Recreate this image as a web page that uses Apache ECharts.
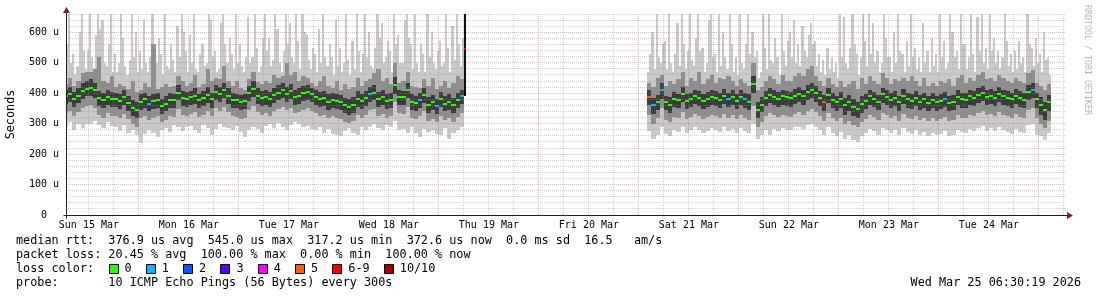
<!DOCTYPE html>
<html><head><meta charset="utf-8">
<script src="https://cdn.jsdelivr.net/npm/echarts@6/dist/echarts.min.js"></script>
<style>html,body{margin:0;padding:0;background:#fff;}#c{width:1097px;height:297px;}</style>
</head><body><div id="c"></div>
<script>
// ---- axis / label data ----
const dayLabels = ['Sun 15 Mar','Mon 16 Mar','Tue 17 Mar','Wed 18 Mar','Thu 19 Mar','Fri 20 Mar','Sat 21 Mar','Sun 22 Mar','Mon 23 Mar','Tue 24 Mar'];
const dayLabelHours = [12,36,60,84,108,132,156,180,204,228]; // hours since Sun 15 Mar 00:00 (noon of each day)
const lossLabels = ['0','1','2','3','4','5','6-9','10/10'];
const lossColors = ['#26ff00','#00b8ff','#0059ff','#5e00ff','#ff00ff','#ff5e00','#ff0000','#a00000'];

// ---- series data: hourly steps, value at hour t covers (t-1, t], microseconds ----
const seg1Start = 7;
const seg1Min = [290,305,280,298,285,300, 300,310,295,285,305,292, 288,275,295,270,280,262, 238,265,280,270,255,278, 285,272,295,288,276,290, 292,280,270,295,285,262, 283,298,290,285,278,292, 272,255,280,290,282,268, 292,300,285,302,290,280, 296,305,298,288,292,284, 278,290,270,282,265,262, 258,275,285,268,262,288, 280,290,300,286,280,295, 290,310,278,282,270,288, 268,255,282,272,280,265, 262,285,250,270,280,290];
const seg1P2 = [335,342,326,338,352,358, 360,352,328,320,334,326, 326,320,332,314,298,290, 318,326,312,320,324,304, 312,324,322,348,330,326, 332,338,322,330,340,326, 350,342,356,338,324,322, 316,320,346,358,338,330, 334,326,340,348,356,344, 352,334,338,346,350,342, 334,326,330,318,324,320, 316,306,302,308,328,320, 330,344,348,326,332,320, 324,370,334,332,356,318, 314,324,340,308,316,304, 326,312,318,306,322,336];
const seg1P4 = [364,372,356,368,382,390, 392,384,358,350,362,354, 354,348,360,342,326,318, 346,352,340,348,350,332, 340,352,350,376,358,354, 360,366,350,358,368,352, 378,370,384,366,352,350, 344,348,374,386,366,358, 362,354,368,376,384,372, 380,362,366,374,378,370, 362,354,358,346,352,348, 344,334,330,336,356,348, 358,372,376,354,360,348, 352,398,362,360,384,346, 342,352,368,336,344,332, 354,340,346,334,350,364];
const seg1Med = [390,396,382,392,408,415, 418,410,384,376,388,380, 380,374,386,368,352,346, 372,380,366,374,378,358, 366,378,376,402,384,380, 386,392,376,384,395,380, 404,396,410,392,378,376, 370,374,400,414,392,384, 388,380,394,402,410,398, 406,388,392,400,405,396, 388,380,384,372,378,374, 370,360,356,362,382,374, 384,398,402,380,386,374, 378,426,388,386,410,372, 368,378,394,362,370,358, 380,366,372,360,376,390];
const seg1P7 = [412,420,405,418,432,440, 445,434,406,400,410,404, 402,398,410,392,378,370, 396,402,390,398,400,382, 390,400,398,428,406,404, 408,418,398,408,420,402, 428,420,434,416,400,398, 394,398,424,440,416,408, 410,404,418,426,434,420, 430,410,416,424,428,418, 410,404,408,396,400,398, 394,384,380,386,406,398, 408,420,426,404,410,396, 402,452,412,408,434,396, 392,400,418,386,394,382, 404,390,396,384,400,412];
const seg1P9 = [430,450,425,440,465,470, 470,480,520,440,435,455, 420,430,425,415,440,405, 410,435,420,560,415,420, 430,420,425,455,440,425, 435,460,420,430,480,440, 450,445,490,440,425,440, 418,412,445,470,438,430, 440,432,460,450,455,500, 460,470,440,455,450,435, 425,440,455,425,418,440, 412,430,415,420,450,425, 440,445,465,480,440,450, 430,500,435,440,470,425, 420,418,445,425,450,415, 425,440,418,432,455,445];
// max per half hour (two values per hourly step)
const seg1MaxHalf = [470,560, 660,500, 530,460, 490,600, 660,540, 480,540, 660,520, 480,590, 660,610, 640,500, 490,560, 660,470, 530,470, 500,660, 580,490, 460,510, 660,520, 600,470, 540,480, 640,500, 470,520, 660,560, 500,580, 530,460, 660,490, 480,560, 510,470, 620,520, 660,600, 540,470, 590,500, 660,480, 470,530, 560,490, 500,660, 640,520, 540,470, 480,630, 660,560, 500,580, 530,480, 660,500, 560,490, 470,520, 650,500, 520,660, 550,470, 490,580, 660,540, 580,490, 510,660, 610,500, 470,540, 660,560, 630,520, 500,660, 570,480, 660,600, 590,510, 480,550, 530,470, 610,500, 660,520, 490,560, 520,460, 640,490, 550,470, 500,660, 510,460, 570,480, 660,540, 470,530, 660,520, 600,490, 480,550, 660,580, 630,500, 520,570, 540,470, 660,560, 590,500, 500,640, 660,580, 560,480, 660,500, 470,560, 530,470, 660,520, 600,500, 480,540, 570,490, 500,660, 550,470, 620,510, 660,560, 490,580];

const seg2Start = 147;
const seg2Min = [275,250,262,290, 265,258,280,272,290,268, 278,288,280,270,276,285, 280,272,288,276,282,268, 285,275,270,300,250,262, 280,262,282,275,285,280, 278,288,290,282,295,300, 290,278,262,288,270,260, 272,250,262,245,240,258, 268,282,275,262,285,278, 270,278,262,285,272,265, 278,262,272,258,268,262, 265,275,258,262,280,272, 268,282,275,285,292,276, 285,275,290,280,272,265, 282,272,268,295,298,262, 258,245,268];
const seg2P2 = [328,300,318,350, 312,304,322,318,338,315, 322,332,325,315,322,330, 325,318,332,320,328,315, 330,320,312,358,290,306, 325,335,328,322,330,326, 322,332,338,330,342,348, 338,325,310,335,318,308, 318,298,310,295,288,305, 315,330,322,312,335,328, 318,325,310,332,320,315, 325,312,320,308,318,310, 315,322,308,312,328,320, 318,330,325,335,342,328, 332,325,338,330,325,318, 332,322,318,345,350,318, 300,285,310];
const seg2P4 = [360,332,346,380, 344,336,354,350,370,348, 355,365,358,348,356,362, 358,350,366,354,360,348, 362,352,346,402,318,338, 358,368,360,355,362,358, 356,365,372,362,378,385, 372,358,342,368,350,340, 352,328,342,325,318,335, 348,362,355,345,368,360, 350,358,342,365,352,348, 358,345,352,340,350,342, 348,355,340,345,360,352, 350,362,358,368,375,360, 365,358,370,362,358,352, 365,356,350,378,385,350, 330,312,342];
const seg2Med = [388,362,372,410, 370,362,380,376,398,374, 380,390,385,375,382,388, 385,378,392,380,386,375, 388,380,372,430,345,362, 385,395,388,382,390,386, 384,392,398,390,405,412, 400,385,372,395,378,370, 382,360,372,355,348,365, 375,390,382,372,396,388, 378,385,370,392,380,375, 385,372,380,368,378,370, 375,382,368,372,388,380, 378,390,385,395,402,388, 392,385,398,390,385,380, 392,384,378,405,412,380, 362,345,372];
const seg2P7 = [410,385,395,432, 392,386,404,398,420,396, 402,412,408,398,405,410, 408,400,415,402,410,398, 410,402,396,455,372,386, 408,418,410,405,412,408, 405,415,420,412,428,435, 422,408,395,418,400,392, 405,385,395,380,372,390, 398,412,405,395,418,410, 400,408,392,415,402,398, 408,395,402,390,400,392, 398,405,390,395,410,402, 400,412,408,418,425,410, 415,408,420,412,408,402, 415,406,400,428,435,402, 388,372,395];
const seg2P9 = [432,420,450,460, 425,440,430,445,470,425, 450,440,470,430,445,460, 435,450,445,455,440,425, 445,435,425,500,410,420, 440,455,445,430,460,440, 440,455,465,455,480,490, 455,440,425,450,430,420, 440,420,430,440,415,450, 430,455,440,430,465,450, 430,445,440,450,440,455, 440,425,450,425,435,425, 440,435,445,425,450,460, 435,450,440,460,470,445, 450,440,460,450,440,435, 450,440,435,465,475,435, 425,410,430];
const seg2MaxHalf = [470,530, 600,480, 660,520, 500,560, 570,480, 660,500, 470,530, 630,490, 660,560, 480,540, 660,510, 490,580, 660,540, 550,470, 500,640, 660,520, 530,470, 660,490, 600,520, 480,660, 560,470, 520,460, 660,500, 480,560, 660,530, 600,520, 540,450, 470,660, 550,480, 660,510, 500,580, 520,460, 660,540, 490,570, 600,520, 640,500, 560,490, 620,540, 520,590, 630,560, 570,490, 530,470, 510,460, 550,480, 520,470, 500,450, 660,520, 650,500, 480,550, 660,560, 530,460, 520,660, 570,490, 660,530, 630,500, 540,470, 500,660, 580,520, 520,470, 600,500, 660,540, 530,470, 570,490, 660,520, 550,480, 520,470, 630,500, 540,470, 580,490, 530,470, 660,520, 570,480, 500,660, 600,520, 540,480, 660,560, 560,480, 520,660, 530,470, 650,540, 660,500, 550,480, 660,540, 580,500, 540,480, 520,660, 570,490, 530,470, 540,480, 570,500, 520,470, 660,560, 550,490, 580,500, 530,470, 600,510, 520,460];

// steps whose median had packet loss (index into lossColors)
const lossHours  = [27,80,92,96,102,147,148,150,166,170,189,218,239];
const lossLevels = [1, 1, 1, 1, 1,  5,  1,  1,  1,  1,  5,  1,  1];

// last step before the outage: jump line and its high median
const jumpHour = 102, jumpFrom = 390, jumpTo = 660, jumpMark = 545;

const legendLines = [
  'median rtt:  376.9 us avg  545.0 us max  317.2 us min  372.6 us now  0.0 ms sd  16.5   am/s',
  'packet loss: 20.45 % avg  100.00 % max  0.00 % min  100.00 % now',
  'loss color:',
  'probe:       10 ICMP Echo Pings (56 Bytes) every 300s'
];
const stampText = 'Wed Mar 25 06:30:19 2026';

// ---- build ----
const X_MIN = 6.5, X_MAX = 246.5, Y_MAX = 660;
const MONO = 'DejaVu Sans Mono';
const smokeData = [];
function addSeg(start, mn, p2, p4, md, p7, p9, mxHalf) {
  for (let i = 0; i < md.length; i++) {
    const t = start + i;
    const li = lossHours.indexOf(t);
    smokeData.push([t, mn[i], p2[i], p4[i], md[i], p7[i], p9[i], mxHalf[2 * i], li >= 0 ? lossLevels[li] : 0, mxHalf[2 * i + 1]]);
  }
}
addSeg(seg1Start, seg1Min, seg1P2, seg1P4, seg1Med, seg1P7, seg1P9, seg1MaxHalf);
addSeg(seg2Start, seg2Min, seg2P2, seg2P4, seg2Med, seg2P7, seg2P9, seg2MaxHalf);

const vGrid = [];
for (let h = 12; h < X_MAX; h += 6) vGrid.push([h, h % 24 === 0 ? 1 : 0]);
const hGrid = [];
for (let v = 20; v <= Y_MAX; v += 20) hGrid.push([v, v % 100 === 0 ? 1 : 0]);

const GRID_MINOR = 'rgba(143,143,143,0.42)';
const GRID_MAJOR = 'rgba(222,79,79,0.42)';

function xOf(api, t) { return Math.round(api.coord([Math.min(Math.max(t, X_MIN), X_MAX), 0])[0]); }
function renderSmoke(params, api) {
  const cs = params.coordSys;
  const t = api.value(0);
  const xa = xOf(api, t - 1), xm = xOf(api, t - 0.5), xb = xOf(api, t);
  const yOf = v => Math.round(Math.max(cs.y, api.coord([t, v])[1]));
  const rect = (x0, x1, lo, hi, fill) => {
    const y1 = yOf(hi), y0 = yOf(lo);
    return {type: 'rect', shape: {x: x0, y: y1, width: x1 - x0, height: Math.max(0, y0 - y1)}, style: {fill}};
  };
  const p9 = api.value(6);
  return {type: 'group', children: [
    rect(xa, xb, api.value(1), p9, '#c9c9c9'),
    rect(xa, xm, p9, Math.max(p9, api.value(7)), '#c9c9c9'),
    rect(xm, xb, p9, Math.max(p9, api.value(9)), '#c9c9c9'),
    rect(xa, xb, api.value(2), p9, '#8e8e8e'),
    rect(xa, xb, api.value(3), api.value(5), '#3c3c3c')
  ]};
}
function renderMedian(params, api) {
  const t = api.value(0);
  const xa = xOf(api, t - 1), xb = xOf(api, t);
  const ym = Math.round(api.coord([t, api.value(4)])[1]);
  return {type: 'rect', shape: {x: xa, y: ym - 1, width: xb - xa, height: 2}, style: {fill: lossColors[api.value(8)]}};
}
function renderVGrid(params, api) {
  const cs = params.coordSys;
  const x = Math.floor(api.coord([api.value(0), 0])[0]) + 0.5;
  return {type: 'line', shape: {x1: x, y1: cs.y, x2: x, y2: cs.y + cs.height},
    style: {stroke: api.value(1) ? GRID_MAJOR : GRID_MINOR, lineWidth: 1, lineDash: [1, 1]}};
}
function renderHGrid(params, api) {
  const cs = params.coordSys;
  const y = Math.floor(api.coord([X_MIN, api.value(0)])[1]) + 0.5;
  return {type: 'line', shape: {x1: cs.x, y1: y, x2: cs.x + cs.width, y2: y},
    style: {stroke: api.value(1) ? GRID_MAJOR : GRID_MINOR, lineWidth: 1, lineDash: [1, 1]}};
}
function renderJump(params, api) {
  const t = api.value(0);
  const x = Math.round(api.coord([t, 0])[0]);
  const yA = Math.round(api.coord([t, api.value(1)])[1]);
  const yB = Math.round(Math.max(params.coordSys.y, api.coord([t, api.value(2)])[1]));
  const yM = Math.round(api.coord([t, api.value(3)])[1]);
  return {type: 'group', children: [
    {type: 'rect', shape: {x: x, y: yB, width: 2, height: yA - yB}, style: {fill: '#111'}},
    {type: 'rect', shape: {x: x, y: yM - 1, width: 2, height: 2}, style: {fill: lossColors[6]}}
  ]};
}
function renderAxes(params, api) {
  const cs = params.coordSys;
  const x0 = Math.floor(cs.x) + 0.5;
  const yb = Math.floor(cs.y + cs.height) + 0.5;
  const top = cs.y, right = cs.x + cs.width;
  const AX = 'rgb(31,31,31)', AR = 'rgb(128,31,31)';
  return {type: 'group', children: [
    {type: 'line', shape: {x1: x0, y1: yb + 3, x2: x0, y2: top - 2}, style: {stroke: AX, lineWidth: 1}},
    {type: 'line', shape: {x1: x0 - 3, y1: yb, x2: right + 2, y2: yb}, style: {stroke: AX, lineWidth: 1}},
    {type: 'polygon', shape: {points: [[x0, top - 7], [x0 - 3.5, top - 1], [x0 + 3.5, top - 1]]}, style: {fill: AR}},
    {type: 'polygon', shape: {points: [[right + 7, yb], [right + 1, yb - 3.5], [right + 1, yb + 3.5]]}, style: {fill: AR}}
  ]};
}

// legend graphics
const graphics = [];
const LF = 11.8, CW = 7.1;
legendLines.forEach((s, i) => {
  graphics.push({type: 'text', x: 16, y: 241 + 14 * i, silent: true,
    style: {text: s, fontFamily: MONO, fontSize: LF, fill: '#000', align: 'left', verticalAlign: 'middle'}});
});
let lx = 108.5;
lossLabels.forEach((lab, i) => {
  graphics.push({type: 'rect', shape: {x: Math.round(lx) + 0.5, y: 264.5, width: 9, height: 9}, silent: true,
    style: {fill: lossColors[i], stroke: '#000', lineWidth: 1}});
  graphics.push({type: 'text', x: lx + 16, y: 269, silent: true,
    style: {text: lab, fontFamily: MONO, fontSize: LF, fill: '#000', align: 'left', verticalAlign: 'middle'}});
  lx += 16 + lab.length * CW + 2 * CW;
});
graphics.push({type: 'text', x: 1081, y: 283, silent: true,
  style: {text: stampText, fontFamily: MONO, fontSize: LF, fill: '#000', align: 'right', verticalAlign: 'middle'}});
graphics.push({type: 'text', x: 11, y: 114.5, rotation: Math.PI / 2, silent: true,
  style: {text: 'Seconds', fontFamily: MONO, fontSize: LF, fill: '#000', align: 'center', verticalAlign: 'middle'}});
graphics.push({type: 'text', x: 1087, y: 5, rotation: -Math.PI / 2, silent: true,
  style: {text: 'RRDTOOL / TOBI OETIKER', fontFamily: MONO, fontSize: 8.3, fill: '#b4b4b4', align: 'left', verticalAlign: 'middle'}});

const chart = echarts.init(document.getElementById('c'), null, {renderer: 'canvas'});
chart.setOption({
  animation: false,
  backgroundColor: '#fff',
  grid: {left: 66, right: 31, top: 14, bottom: 82},
  xAxis: {
    type: 'value', min: X_MIN, max: X_MAX,
    axisLine: {show: false}, axisTick: {show: false}, splitLine: {show: false},
    axisLabel: {customValues: dayLabelHours, formatter: v => dayLabels[dayLabelHours.indexOf(v)] || '',
      fontFamily: MONO, fontSize: 10, color: '#000', margin: 5}
  },
  yAxis: {
    type: 'value', min: 0, max: Y_MAX, interval: 20,
    axisLine: {show: false}, axisTick: {show: false}, splitLine: {show: false},
    axisLabel: {formatter: v => (v % 100 !== 0 || v > 600) ? '' : (v === 0 ? '0  ' : v + ' u'),
      fontFamily: MONO, fontSize: 10, color: '#000', margin: 7}
  },
  graphic: graphics,
  series: [
    {type: 'custom', name: 'smoke', silent: true, z: 1, renderItem: renderSmoke, data: smokeData, encode: {x: 0, y: 4}},
    {type: 'custom', name: 'vgrid', silent: true, z: 2, renderItem: renderVGrid, data: vGrid, encode: {x: 0}},
    {type: 'custom', name: 'hgrid', silent: true, z: 2, renderItem: renderHGrid, data: hGrid, encode: {y: 0}},
    {type: 'custom', name: 'jump', silent: true, z: 3, renderItem: renderJump, data: [[jumpHour, jumpFrom, jumpTo, jumpMark]], encode: {x: 0}},
    {type: 'custom', name: 'median', silent: true, z: 4, renderItem: renderMedian, data: smokeData, encode: {x: 0, y: 4}},
    {type: 'custom', name: 'axes', silent: true, z: 5, renderItem: renderAxes, data: [[X_MIN, 0]], encode: {x: 0}}
  ]
});
</script></body></html>
